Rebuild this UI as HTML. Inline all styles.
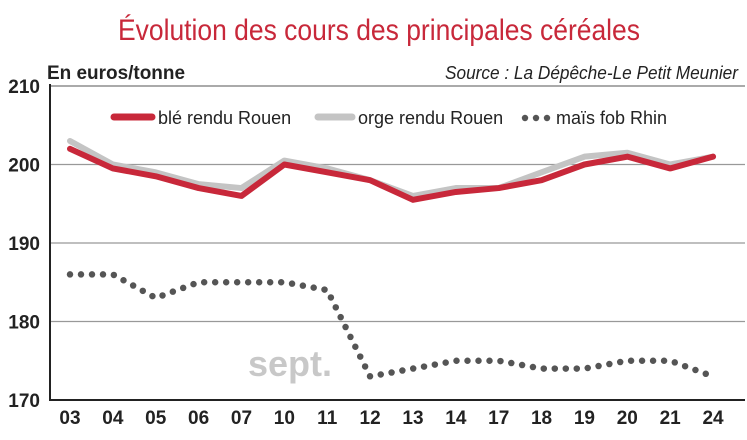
<!DOCTYPE html>
<html><head><meta charset="utf-8"><style>
body{margin:0;background:#fff;}
svg{display:block;font-family:"Liberation Sans Narrow","Liberation Sans",sans-serif;}
</style></head><body>
<svg id="c" width="747" height="440" viewBox="0 0 747 440">
<text x="118" y="40" font-size="30" fill="#c8283a" textLength="522" lengthAdjust="spacingAndGlyphs">Évolution des cours des principales céréales</text>
<text x="47" y="79" font-size="19" font-weight="bold" fill="#222" textLength="138" lengthAdjust="spacingAndGlyphs">En euros/tonne</text>
<text x="445" y="79" font-size="18" font-style="italic" fill="#222" textLength="293" lengthAdjust="spacingAndGlyphs">Source : La Dépêche-Le Petit Meunier</text>
<text x="290" y="376" text-anchor="middle" font-size="36" font-weight="bold" fill="#c8c8c8" font-family="Liberation Sans, sans-serif">sept.</text>
<g id="grid"></g><g id="axes"></g><g id="series"></g>
<g>
<line x1="114" y1="117" x2="152" y2="117" stroke="#c8283a" stroke-width="7" stroke-linecap="round"/>
<text x="158" y="124" font-size="18" fill="#222">blé rendu Rouen</text>
<line x1="318" y1="117" x2="352" y2="117" stroke="#c4c4c4" stroke-width="7" stroke-linecap="round"/>
<text x="358" y="124" font-size="18" fill="#222">orge rendu Rouen</text>
<g fill="#555"><circle cx="525" cy="118" r="3.2"/><circle cx="536" cy="118" r="3.2"/><circle cx="547" cy="118" r="3.2"/></g>
<text x="556" y="124" font-size="18" fill="#222">maïs fob Rhin</text>
</g>
</svg>
<script>
const categories=["03","04","05","06","07","10","11","12","13","14","17","18","19","20","21","24"];
const ble=[202,199.5,198.5,197,196,200,199,198,195.5,196.5,197,198,200,201,199.5,201];
const orge=[203,200,199,197.5,197,200.5,199.5,198,196,197,197,199,201,201.5,200,201];
const mais=[186,186,183,185,185,185,184,173,174,175,175,174,174,175,175,173];
const yTicks=[170,180,190,200,210];
const NS="http://www.w3.org/2000/svg";
const x=i=>70+i*42.87;
const y=v=>400-(v-170)*7.85;
function mk(tag,attrs,parent){const e=document.createElementNS(NS,tag);for(const k in attrs)e.setAttribute(k,attrs[k]);parent.appendChild(e);return e;}
const grid=document.getElementById('grid'),axes=document.getElementById('axes'),ser=document.getElementById('series');
yTicks.forEach(t=>{
  const l=mk('line',{x1:50,x2:745,y1:y(t),y2:y(t),stroke:t==170?'#222':(t==210?'#777':'#999'),'stroke-width':t==170?2:1.3},grid);
  
  
  const tx=mk('text',{x:40,y:y(t)+7,'text-anchor':'end','font-size':19,'font-weight':'bold',fill:'#222'},axes);
  tx.textContent=t;
  
  
});
const ax=mk('line',{x1:50,x2:50,y1:y(210)-2,y2:401,stroke:'#222','stroke-width':2},axes);


categories.forEach((c,i)=>{
  const tx=mk('text',{x:x(i),y:424,'text-anchor':'middle','font-size':19,'font-weight':'bold',fill:'#222'},axes);
  tx.textContent=c;
  
  
});
const pts=a=>a.map((v,i)=>x(i)+','+y(v)).join(' ');
const po=mk('polyline',{points:pts(orge),fill:'none',stroke:'#c4c4c4','stroke-width':6,'stroke-linejoin':'round','stroke-linecap':'round'},ser);


const pb=mk('polyline',{points:pts(ble),fill:'none',stroke:'#c8283a','stroke-width':6,'stroke-linejoin':'round','stroke-linecap':'round'},ser);


const pm=mk('polyline',{points:pts(mais),fill:'none',stroke:'#555','stroke-width':6.5,'stroke-dasharray':'0 11','stroke-linecap':'round','stroke-linejoin':'round'},ser);


</script>
</body></html>
